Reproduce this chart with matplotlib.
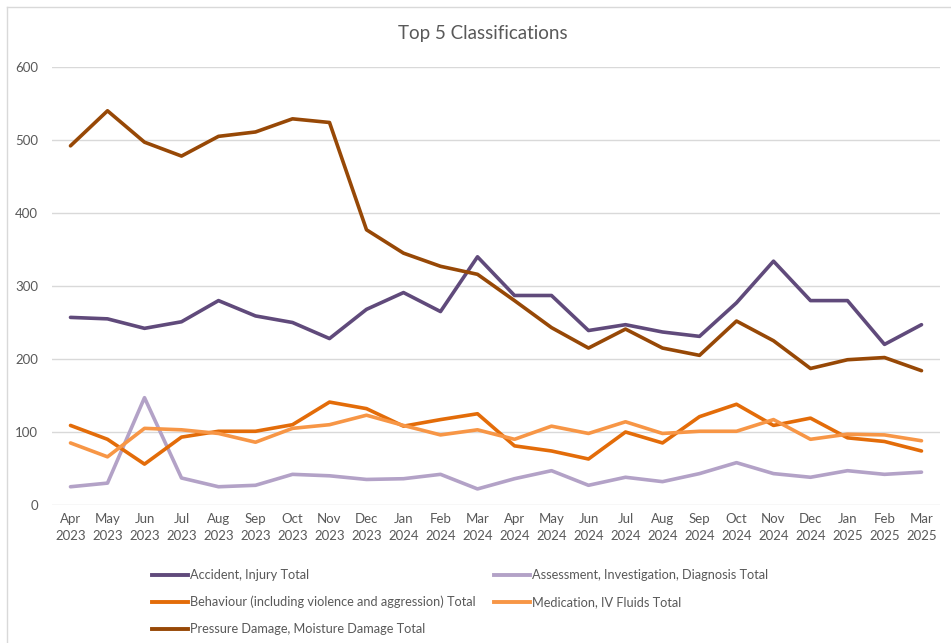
import matplotlib
matplotlib.use("Agg")
import matplotlib.pyplot as plt
from matplotlib.lines import Line2D

plt.rcParams['font.family'] = ['Lato', 'DejaVu Sans']

months = ["Apr\n2023", "May\n2023", "Jun\n2023", "Jul\n2023", "Aug\n2023", "Sep\n2023",
          "Oct\n2023", "Nov\n2023", "Dec\n2023", "Jan\n2024", "Feb\n2024", "Mar\n2024",
          "Apr\n2024", "May\n2024", "Jun\n2024", "Jul\n2024", "Aug\n2024", "Sep\n2024",
          "Oct\n2024", "Nov\n2024", "Dec\n2024", "Jan\n2025", "Feb\n2025", "Mar\n2025"]

accident = [257, 255, 242, 251, 280, 259, 250, 228, 268, 291, 265, 340,
            287, 287, 239, 247, 237, 231, 277, 334, 280, 280, 220, 247]
assessment = [25, 30, 147, 37, 25, 27, 42, 40, 35, 36, 42, 22,
              36, 47, 27, 38, 32, 43, 58, 43, 38, 47, 42, 45]
behaviour = [109, 90, 56, 93, 101, 101, 110, 141, 132, 108, 117, 125,
             81, 74, 63, 100, 85, 121, 138, 109, 119, 92, 87, 74]
medication = [85, 66, 105, 103, 98, 86, 105, 110, 123, 109, 96, 103,
              90, 108, 98, 114, 98, 101, 101, 117, 90, 97, 96, 88]
pressure = [492, 540, 497, 478, 505, 511, 529, 524, 377, 345, 327, 316,
            280, 243, 215, 241, 215, 205, 252, 225, 187, 199, 202, 184]

series = [
    ("Accident, Injury Total", accident, "#604A7B"),
    ("Assessment, Investigation, Diagnosis Total", assessment, "#B3A2C7"),
    ("Behaviour (including violence and aggression) Total", behaviour, "#E36C09"),
    ("Medication, IV Fluids Total", medication, "#F79646"),
    ("Pressure Damage, Moisture Damage Total", pressure, "#974806"),
]

W, H = 951, 643
fig = plt.figure(figsize=(W / 100, H / 100), dpi=100)
fig.patch.set_facecolor("white")

left, right, top, bottom = 52, 940, 67, 505
ax = fig.add_axes([left / W, 1 - bottom / H, (right - left) / W, (bottom - top) / H])

x = list(range(len(months)))
for name, vals, col in series:
    ax.plot(x, vals, color=col, lw=2.6, solid_joinstyle="round", solid_capstyle="round")

ax.set_xlim(-0.5, len(months) - 0.5)
ax.set_ylim(0, 600)
ax.set_yticks(range(0, 601, 100))
ax.set_xticks(x)
ax.set_xticklabels(months, linespacing=1.45)
ax.grid(axis="y", color="#D9D9D9", lw=1)
ax.set_axisbelow(True)
for s in ax.spines.values():
    s.set_visible(False)
ax.tick_params(axis="both", length=0, colors="#595959", labelsize=9.5)
ax.tick_params(axis="y", pad=10)
ax.tick_params(axis="x", pad=6)

fig.text(483 / W, 1 - 33 / H, "Top 5 Classifications", ha="center", va="center",
         fontsize=13.5, color="#595959")

# outer frame (left and top edges)
fig.add_artist(Line2D([7 / W, 7 / W], [0, 1 - 7 / H], transform=fig.transFigure,
                      color="#D9D9D9", lw=1))
fig.add_artist(Line2D([7 / W, 1], [1 - 7 / H, 1 - 7 / H], transform=fig.transFigure,
                      color="#D9D9D9", lw=1))

# legend laid out in two columns
slots = [(152, 575), (494, 575), (152, 602), (494, 602), (152, 629)]
for (name, vals, col), (lx, ly) in zip(series, slots):
    yy = 1 - ly / H
    fig.add_artist(Line2D([lx / W, (lx + 36) / W], [yy, yy], transform=fig.transFigure,
                          color=col, lw=2.8))
    fig.text((lx + 38) / W, yy, name, ha="left", va="center", fontsize=9.2, color="#595959")

fig.savefig("out.png", dpi=100)
